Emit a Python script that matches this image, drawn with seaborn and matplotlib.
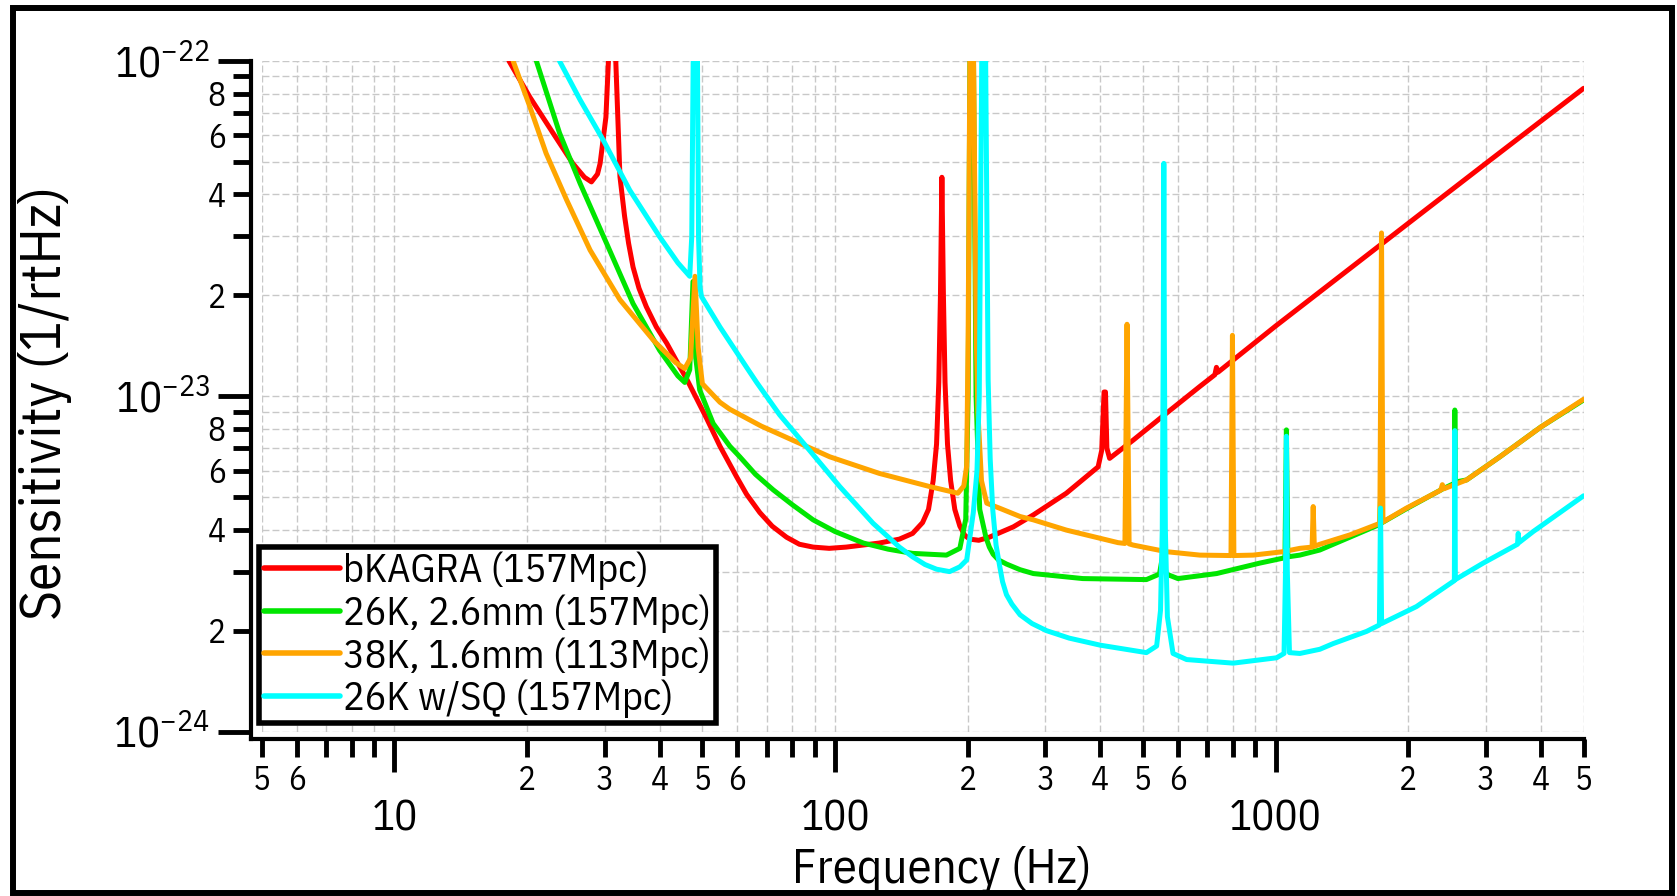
import matplotlib
matplotlib.use("Agg")
import matplotlib.pyplot as plt
from matplotlib.patches import Rectangle
import pandas as pd
import seaborn as sns

# --- дані (частота в Гц, чутливість в 1/rtHz) ---
red_freq = [18.2, 20.3, 22.9, 25.4, 27.0, 28.0, 28.9, 29.3, 30.2, 30.6, 31.2, 31.8, 32.5, 32.9,
            33.3, 34.0, 34.8, 35.9, 37.3, 39.3, 41.5, 44.4, 46.0, 51.1, 54.8, 59.8, 63, 67.5, 72,
            77.6, 83, 89.2, 97, 106, 126, 140, 150, 158, 163, 167, 170, 172, 173.5, 174.8, 176.2,
            177.7, 180, 183, 187, 192, 197, 202, 212, 224, 254, 282, 335, 395.5, 403, 408, 411,
            414, 420, 475, 565, 673, 728, 734, 740, 1000, 2000, 3000, 5000]
red_asd = [1e-22, 7.8e-23, 6.1e-23, 4.95e-23, 4.5e-23, 4.36e-23, 4.6e-23, 4.95e-23, 6.8e-23, 1.0e-22,
           3e-22, 1.0e-22, 4.52e-23, 3.94e-23, 3.44e-23, 2.86e-23, 2.43e-23, 2.1e-23, 1.85e-23,
           1.61e-23, 1.44e-23, 1.226e-23, 1.13e-23, 8.6e-24, 7.1e-24, 5.75e-24, 5.1e-24, 4.5e-24,
           4.1e-24, 3.8e-24, 3.62e-24, 3.55e-24, 3.52e-24, 3.55e-24, 3.65e-24, 3.75e-24, 3.9e-24,
           4.2e-24, 4.6e-24, 5.6e-24, 7.2e-24, 1.1e-23, 2.0e-23, 4.5e-23, 2.0e-23, 1.1e-23, 7.2e-24,
           5.6e-24, 4.6e-24, 4.1e-24, 3.85e-24, 3.75e-24, 3.72e-24, 3.8e-24, 4.08e-24, 4.43e-24,
           5.14e-24, 6.16e-24, 6.9e-24, 1.03e-23, 1.03e-23, 7.0e-24, 6.53e-24, 7.4e-24, 8.9e-24,
           1.07e-23, 1.16e-23, 1.22e-23, 1.18e-23, 1.62e-23, 3.28e-23, 4.95e-23, 8.29e-23]

green_freq = [21.0, 23.7, 26.4, 30.3, 34.8, 40.0, 44.0, 45.6, 46.8, 47.6, 48.3, 49.3, 52.9, 57.7,
              60.8, 66, 72.4, 80, 89.2, 100, 116, 132, 150, 179, 192, 198, 200.5, 202.5, 204.5, 206,
              209, 213, 220, 224, 228.5, 235, 245, 263, 282, 365, 509, 545, 553, 555.6, 558, 565,
              600, 734.5, 920, 1050, 1058, 1066, 1135, 1260, 1474, 1724, 1735, 1745, 1981, 2399,
              2545, 2551, 2558, 2712, 3228, 4000, 5000]
green_asd = [1.0e-22, 6.1e-23, 4.31e-23, 2.86e-23, 1.89e-23, 1.37e-23, 1.15e-23, 1.10e-23, 1.2e-23,
             2.2e-23, 1.3e-23, 1.045e-23, 8.3e-24, 7.1e-24, 6.6e-24, 5.85e-24, 5.26e-24, 4.75e-24,
             4.28e-24, 3.95e-24, 3.65e-24, 3.5e-24, 3.4e-24, 3.36e-24, 3.52e-24, 4.3e-24, 1.0e-23,
             1.2e-22, 3e-22, 1.2e-22, 1.0e-23, 4.6e-24, 3.8e-24, 3.55e-24, 3.38e-24, 3.25e-24,
             3.16e-24, 3.04e-24, 2.96e-24, 2.86e-24, 2.84e-24, 2.95e-24, 3.3e-24, 3.6e-24, 3.2e-24,
             2.95e-24, 2.86e-24, 2.96e-24, 3.18e-24, 3.3e-24, 7.94e-24, 3.32e-24, 3.36e-24, 3.48e-24,
             3.8e-24, 4.15e-24, 5.83e-24, 4.2e-24, 4.62e-24, 5.3e-24, 5.5e-24, 9.1e-24, 5.55e-24,
             5.63e-24, 6.6e-24, 8.1e-24, 9.75e-24]

orange_freq = [18.6, 20.3, 22.1, 24.6, 27.8, 32.5, 38.7, 43.5, 45.6, 47.0, 48.1, 48.9, 50.0, 54.8,
               57.7, 63.0, 68, 74.9, 97.3, 126, 164, 190, 196, 199, 200.5, 202.5, 204.5, 206, 209,
               211, 215, 221, 237, 263, 282, 335, 439, 455, 460, 465, 475, 565, 673, 792, 798, 804,
               889, 1040, 1135, 1210, 1217, 1224, 1260, 1474, 1724, 1739, 1752, 1981, 2370, 2390,
               2410, 2712, 3228, 4000, 5000]
orange_asd = [1.0e-22, 7.3e-23, 5.3e-23, 3.85e-23, 2.73e-23, 1.94e-23, 1.47e-23, 1.26e-23, 1.21e-23,
              1.3e-23, 2.28e-23, 1.4e-23, 1.09e-23, 9.6e-24, 9.15e-24, 8.6e-24, 8.15e-24, 7.7e-24,
              6.6e-24, 5.89e-24, 5.38e-24, 5.14e-24, 5.4e-24, 6.2e-24, 1.5e-23, 1.2e-22, 3e-22,
              1.2e-22, 1.6e-23, 9e-24, 5.6e-24, 4.8e-24, 4.63e-24, 4.38e-24, 4.28e-24, 3.99e-24,
              3.66e-24, 3.64e-24, 1.64e-23, 3.63e-24, 3.6e-24, 3.44e-24, 3.36e-24, 3.35e-24, 1.52e-23,
              3.35e-24, 3.36e-24, 3.44e-24, 3.52e-24, 3.55e-24, 4.69e-24, 3.57e-24, 3.62e-24, 3.86e-24,
              4.18e-24, 3.07e-23, 4.22e-24, 4.64e-24, 5.25e-24, 5.45e-24, 5.3e-24, 5.63e-24, 6.6e-24,
              8.1e-24, 9.8e-24]

cyan_freq = [23.7, 26.4, 29.8, 34.2, 40.0, 44.0, 46.8, 47.3, 47.7, 48.2, 48.7, 49.0, 49.4, 49.8,
             54.8, 63.0, 66.4, 74.9, 86.1, 102.5, 122, 140, 150, 160, 170, 182, 192, 199, 206, 210,
             212.5, 215.5, 217.5, 219.5, 222.6, 225, 228, 232, 236.6, 240, 245, 252, 263, 280, 302,
             340, 400, 509, 537, 548, 553, 556, 557.5, 559, 562, 568, 585, 628, 801, 1005, 1045,
             1053, 1058, 1063, 1075, 1135, 1260, 1351, 1609, 1720, 1730, 1740, 2088, 2545, 2551,
             2558, 2958, 3540, 3553, 3566, 3842, 5000]
cyan_asd = [1.0e-22, 7.65e-23, 5.8e-23, 4.12e-23, 2.99e-23, 2.5e-23, 2.28e-23, 3e-23, 1.2e-22, 4e-22,
            1.2e-22, 3e-23, 2.1e-23, 1.98e-23, 1.61e-23, 1.22e-23, 1.1e-23, 8.8e-24, 7.08e-24,
            5.38e-24, 4.18e-24, 3.55e-24, 3.32e-24, 3.15e-24, 3.05e-24, 3.0e-24, 3.1e-24, 3.25e-24,
            4.5e-24, 6e-24, 1e-23, 1.2e-22, 3e-22, 1.2e-22, 1.12e-23, 6.5e-24, 4.6e-24, 3.6e-24,
            3.1e-24, 2.8e-24, 2.56e-24, 2.4e-24, 2.23e-24, 2.1e-24, 2.0e-24, 1.9e-24, 1.81e-24,
            1.72e-24, 1.8e-24, 2.3e-24, 4e-24, 1.5e-23, 4.95e-23, 1.5e-23, 4e-24, 2.2e-24, 1.71e-24,
            1.64e-24, 1.6e-24, 1.66e-24, 1.71e-24, 3e-24, 7.6e-24, 3e-24, 1.72e-24, 1.71e-24,
            1.76e-24, 1.83e-24, 1.99e-24, 2.08e-24, 4.64e-24, 2.1e-24, 2.36e-24, 2.82e-24, 7.9e-24,
            2.84e-24, 3.18e-24, 3.62e-24, 3.9e-24, 3.66e-24, 3.95e-24, 5.05e-24]

series_names = ['bKAGRA (157Mpc)', '26K, 2.6mm (157Mpc)', '38K, 1.6mm (113Mpc)', '26K w/SQ (157Mpc)']
series_colors = ['#ff0000', '#00e600', '#ffa500', '#00ffff']

x_major = [10, 100, 1000]
x_major_labels = ['10', '100', '1000']
x_minor = [5, 6, 7, 8, 9, 20, 30, 40, 50, 60, 70, 80, 90,
           200, 300, 400, 500, 600, 700, 800, 900, 2000, 3000, 4000, 5000]
x_minor_labels = ['5', '6', '', '', '', '2', '3', '4', '5', '6', '', '', '',
                  '2', '3', '4', '5', '6', '', '', '', '2', '3', '4', '5']
y_major = [1e-24, 1e-23, 1e-22]
y_major_labels = [r'$10^{-24}$', r'$10^{-23}$', r'$10^{-22}$']
y_minor = [2e-24, 3e-24, 4e-24, 5e-24, 6e-24, 7e-24, 8e-24, 9e-24,
           2e-23, 3e-23, 4e-23, 5e-23, 6e-23, 7e-23, 8e-23, 9e-23]
y_minor_labels = ['2', '', '4', '', '6', '', '8', '', '2', '', '4', '', '6', '', '8', '']

# --- таблиця для seaborn ---
frames = []
for name, f, a in zip(series_names,
                      [red_freq, green_freq, orange_freq, cyan_freq],
                      [red_asd, green_asd, orange_asd, cyan_asd]):
    frames.append(pd.DataFrame({'freq': f, 'asd': a, 'curve': name}))
df = pd.concat(frames, ignore_index=True)

sns.set_theme(style='white')
FONT = 'IBM Plex Sans Condensed'
plt.rcParams['font.family'] = [FONT, 'DejaVu Sans']
plt.rcParams['mathtext.fontset'] = 'custom'
plt.rcParams['mathtext.rm'] = FONT
plt.rcParams['mathtext.it'] = FONT
plt.rcParams['mathtext.default'] = 'regular'
for key in ['text.color', 'axes.labelcolor', 'xtick.color', 'ytick.color']:
    plt.rcParams[key] = 'black'

fig = plt.figure(figsize=(16.77, 8.96), dpi=100)
ax = fig.add_axes([0.1561, 0.1835, 0.7882, 0.7484])

sns.lineplot(data=df, x='freq', y='asd', hue='curve', hue_order=series_names,
             palette=dict(zip(series_names, series_colors)), estimator=None, sort=False,
             lw=3.6, ax=ax)

ax.set_xscale('log')
ax.set_yscale('log')
ax.set_xlim(5, 5000)
ax.set_ylim(1e-24, 1e-22)

ax.set_xticks(x_major, x_major_labels)
ax.set_xticks(x_minor, x_minor_labels, minor=True)
ax.set_yticks(y_major, y_major_labels)
ax.set_yticks(y_minor, y_minor_labels, minor=True)

ax.grid(True, which='both', color='#c8c8c8', lw=1.0, ls=(0, (5, 2.2)))
ax.set_axisbelow(True)

# осі
sns.despine(ax=ax, offset={'left': 8, 'bottom': 5.3})
for side in ['left', 'bottom']:
    ax.spines[side].set_linewidth(3)
    ax.spines[side].set_color('black')
ax.spines['left'].set_bounds(0.95e-24, 1e-22)
ax.spines['bottom'].set_bounds(4.72, 5000)

ax.tick_params(which='both', direction='out', color='black', width=3.5, labelcolor='black',
               bottom=True, left=True)
ax.tick_params(which='major', length=24)
ax.tick_params(which='minor', length=13)
ax.tick_params(axis='x', which='major', labelsize=31, pad=19)
ax.tick_params(axis='x', which='minor', labelsize=24, pad=6)
ax.tick_params(axis='y', which='major', labelsize=31, pad=5.5)
ax.tick_params(axis='y', which='minor', labelsize=24, pad=5)

ax.set_xlabel('Frequency (Hz)', fontsize=35)
ax.xaxis.label.set_va('baseline')
ax.xaxis.set_label_coords(0.5147, -0.2258)
ax.set_ylabel('Sensitivity (1/rtHz)', fontsize=41)
ax.yaxis.label.set_va('center')
ax.yaxis.set_label_coords(-0.164, 0.49)

# легенда
handles, labels = ax.get_legend_handles_labels()
for h in handles:
    h.set_linewidth(4)
leg = ax.legend(handles, labels, loc='lower left', bbox_to_anchor=(-0.002, 0.013),
                borderaxespad=0, fontsize=29, frameon=True, fancybox=False,
                edgecolor='black', framealpha=1, handlelength=1.9, handletextpad=0.06,
                labelspacing=0.1, borderpad=0.12)
leg.get_frame().set_linewidth(4)

# рамка навколо всього рисунка
fig.add_artist(Rectangle((0.00775, 0.00335), 0.98927, 0.98772, transform=fig.transFigure,
                         fill=False, edgecolor='black', lw=4.3, zorder=10))

fig.savefig('out.png', dpi=100)
